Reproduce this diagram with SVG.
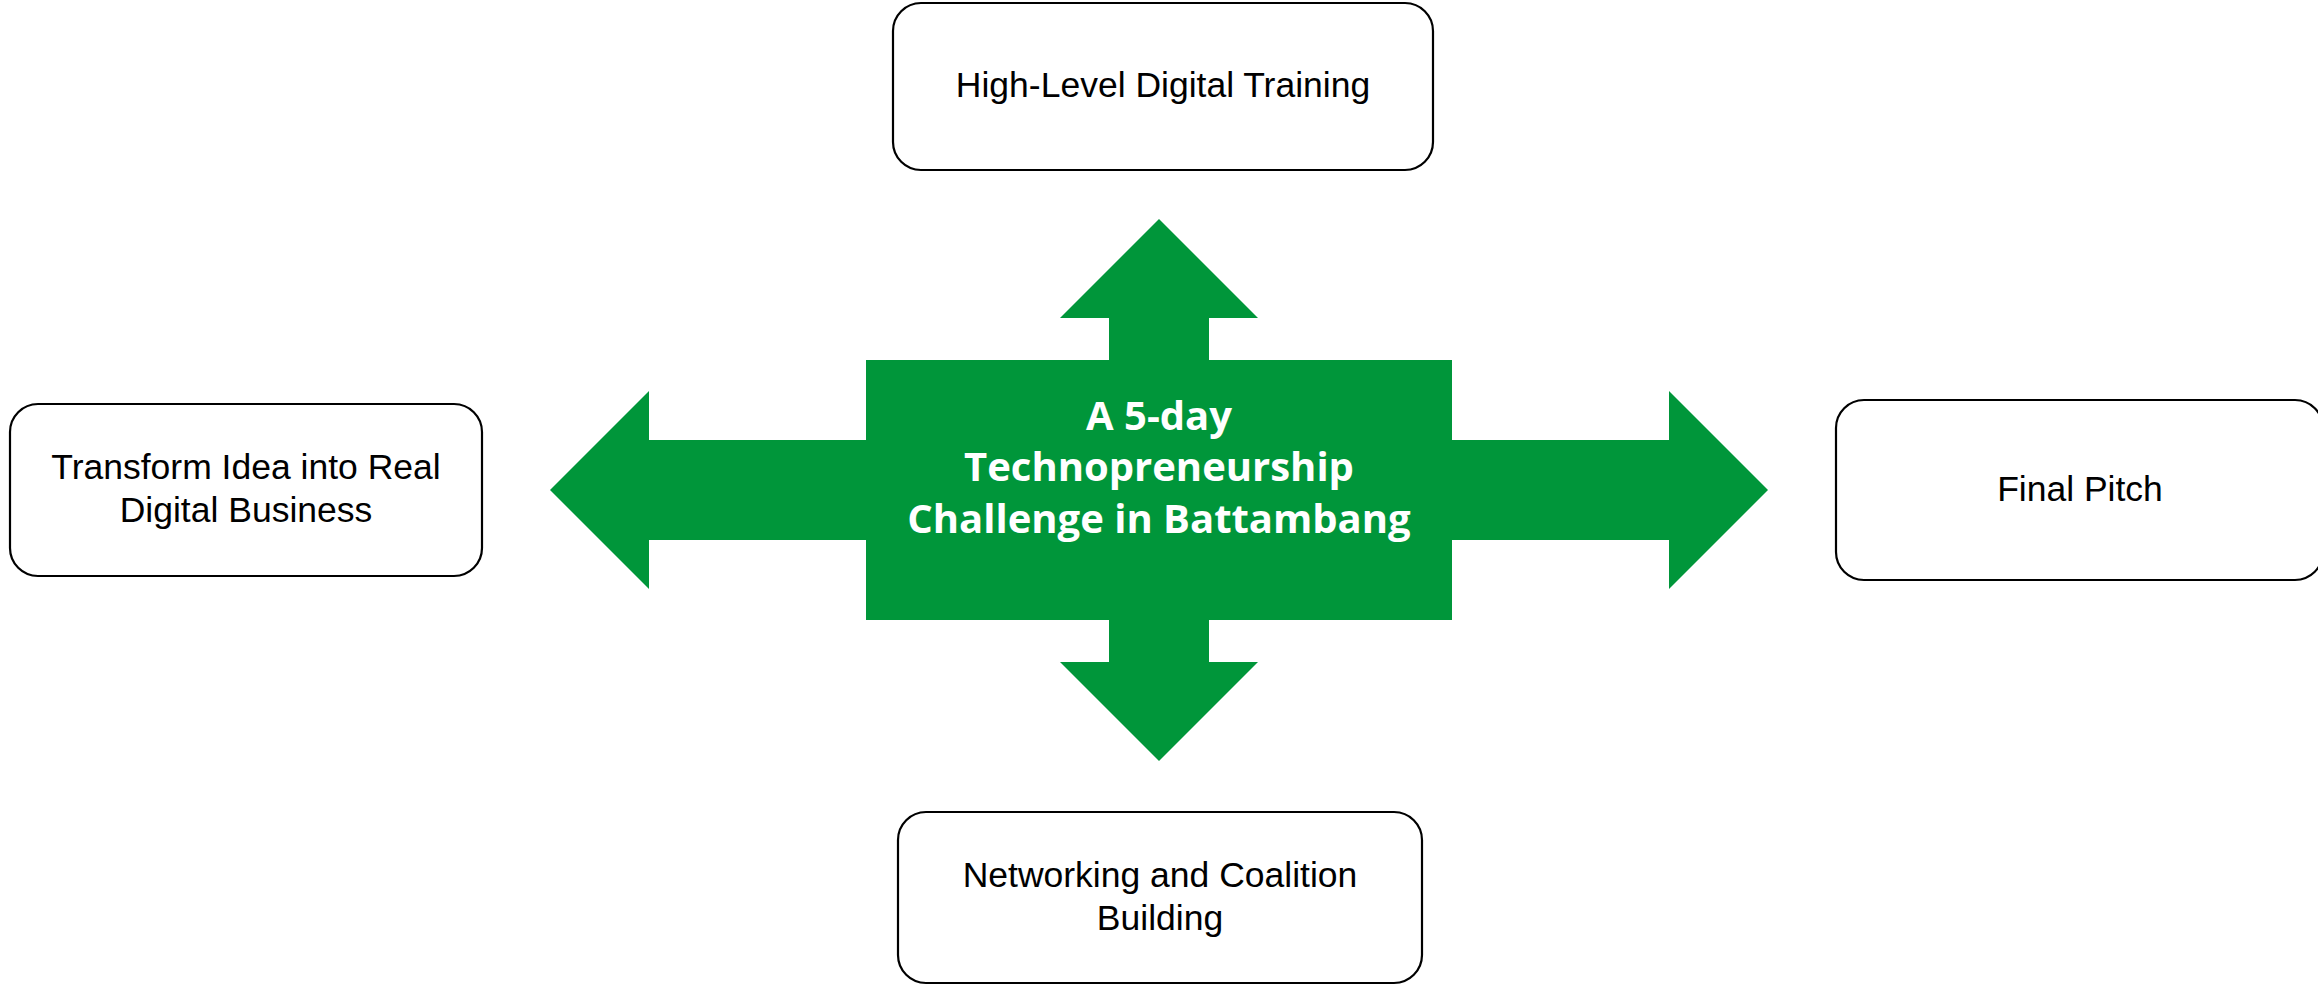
<svg xmlns="http://www.w3.org/2000/svg" width="2318" height="987" viewBox="0 0 2318 987">
  <style>
    .box { fill: #ffffff; stroke: #000000; stroke-width: 2.2; }
    .lbl { font-family: "Liberation Sans", Arial, sans-serif; font-size: 35.5px; fill: #000000; text-anchor: middle; }
    .green { fill: #00963A; stroke: none; }
    .ctr { font-family: "Open Sans", "Noto Sans", sans-serif; font-weight: bold; font-size: 40px; fill: #ffffff; text-anchor: middle; }
  </style>
  <rect width="2318" height="987" fill="#ffffff"/>
  <g id="connectors">
    <polygon class="green" points="1109,370 1109,318 1060,318 1159,219 1258,318 1209,318 1209,370"/>
    <polygon class="green" points="1109,610 1109,662 1060,662 1159,761 1258,662 1209,662 1209,610"/>
    <polygon class="green" points="876,440 649,440 649,391 550,490 649,589 649,540 876,540"/>
    <polygon class="green" points="1442,440 1669,440 1669,391 1768,490 1669,589 1669,540 1442,540"/>
  </g>
  <g id="center">
    <rect class="green" x="866" y="360" width="586" height="260"/>
    <text class="ctr" x="1159" y="430">A 5-day</text>
    <text class="ctr" x="1159" y="481">Technopreneurship</text>
    <text class="ctr" x="1159" y="533">Challenge in Battambang</text>
  </g>
  <g id="top">
    <rect class="box" x="893" y="3" width="540" height="167" rx="28" ry="28"/>
    <text class="lbl" x="1163" y="97">High-Level Digital Training</text>
  </g>
  <g id="left">
    <rect class="box" x="10" y="404" width="472" height="172" rx="28" ry="28"/>
    <text class="lbl" x="246" y="479">Transform Idea into Real</text>
    <text class="lbl" x="246" y="522">Digital Business</text>
  </g>
  <g id="right">
    <rect class="box" x="1836" y="400" width="487" height="180" rx="28" ry="28"/>
    <text class="lbl" x="2080" y="501">Final Pitch</text>
  </g>
  <g id="bottom">
    <rect class="box" x="898" y="812" width="524" height="171" rx="28" ry="28"/>
    <text class="lbl" x="1160" y="887">Networking and Coalition</text>
    <text class="lbl" x="1160" y="930">Building</text>
  </g>
</svg>
